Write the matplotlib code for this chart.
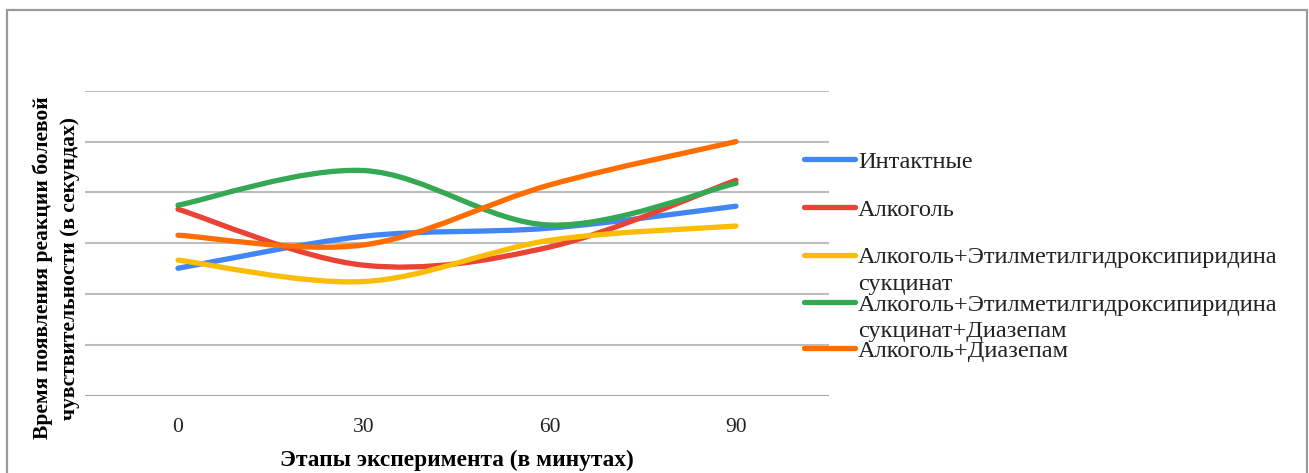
import numpy as np
import matplotlib.pyplot as plt
from matplotlib.path import Path
from matplotlib.patches import PathPatch, Rectangle
from matplotlib.lines import Line2D

plt.rcParams['font.family'] = ['Liberation Serif', 'DejaVu Serif']

# stages of the experiment (minutes) and reaction times per group
stages = ["0", "30", "60", "90"]
intact = [2.51, 3.14, 3.30, 3.73]
alcohol = [3.67, 2.57, 2.93, 4.24]
alc_emhps = [2.67, 2.25, 3.06, 3.34]
alc_emhps_diaz = [3.75, 4.43, 3.36, 4.18]
alc_diaz = [3.16, 2.97, 4.15, 5.00]

names = ["Интактные", "Алкоголь",
         "Алкоголь+Этилметилгидроксипиридина\nсукцинат",
         "Алкоголь+Этилметилгидроксипиридина\nсукцинат+Диазепам",
         "Алкоголь+Диазепам"]
series = [intact, alcohol, alc_emhps, alc_emhps_diaz, alc_diaz]
colors = ["#4285f4", "#ea4335", "#fbbc04", "#34a853", "#ff6d01"]

W, H = 1309, 473
fig = plt.figure(figsize=(W / 100, H / 100), dpi=100)

# outer chart frame
fig.add_artist(Rectangle((7 / W, -0.05), (1306.5 - 7) / W, 1.05 - 10 / H,
                         transform=fig.transFigure, fill=False,
                         edgecolor="#999999", lw=1.6))

ax = fig.add_axes([85 / W, 1 - 396 / H, (829 - 85) / W, (396 - 90.7) / H])
ax.set_xlim(-0.5, len(stages) - 0.5)
ax.set_ylim(0, 6)
ax.set_yticks(range(7))
ax.set_yticklabels([])
ax.tick_params(axis='y', length=0)
ax.set_xticks(range(len(stages)))
ax.set_xticklabels(stages, fontsize=15.5, color="#222222")
ax.tick_params(axis='x', length=0, pad=16)
ax.grid(axis='y', color="#bdbdbd", lw=1.5)
ax.set_axisbelow(True)
for s in ax.spines.values():
    s.set_visible(False)
ax.axhline(0, color="#9e9e9e", lw=1.8, zorder=1)


def smooth_path(xs, ys):
    # bezier segments with control points from neighbouring points
    pts = np.column_stack([xs, ys]).astype(float)
    ext = np.vstack([pts[0], pts, pts[-1]])
    verts = [pts[0]]
    codes = [Path.MOVETO]
    for i in range(len(pts) - 1):
        p0, p1, p2, p3 = ext[i], ext[i + 1], ext[i + 2], ext[i + 3]
        verts += [p1 + (p2 - p0) / 6, p2 - (p3 - p1) / 6, p2]
        codes += [Path.CURVE4] * 3
    return Path(verts, codes)


x = np.arange(len(stages))
for vals, c in zip(series, colors):
    ax.add_patch(PathPatch(smooth_path(x, vals), facecolor='none',
                           edgecolor=c, lw=3.8, capstyle='round', zorder=3))

# legend drawn by hand so the key sits on the first line of each label
leg_y = [159, 207, 255, 302, 348]
for name, c, ly in zip(names, colors, leg_y):
    fig.add_artist(Line2D([804 / W, 855 / W], [1 - ly / H, 1 - ly / H],
                          color=c, lw=3.8, solid_capstyle='round'))
    for k, line in enumerate(name.split("\n")):
        fig.text(858 / W, 1 - (ly + 8.5 + 26.5 * k) / H, line, fontsize=17.6,
                 va='baseline', ha='left', color="#222222")

fig.text(457 / W, 1 - 466 / H, "Этапы эксперимента (в минутах)",
         fontsize=16.8, fontweight='bold', ha='center', va='baseline')
fig.text(43 / W, 1 - 268 / H, "Время появления реакции болевой",
         fontsize=15.5, fontweight='bold', rotation=90, ha='center', va='center')
fig.text(70 / W, 1 - 268 / H, "чувствительности (в секундах)",
         fontsize=15.5, fontweight='bold', rotation=90, ha='center', va='center')

fig.savefig("out.png", dpi=100)
